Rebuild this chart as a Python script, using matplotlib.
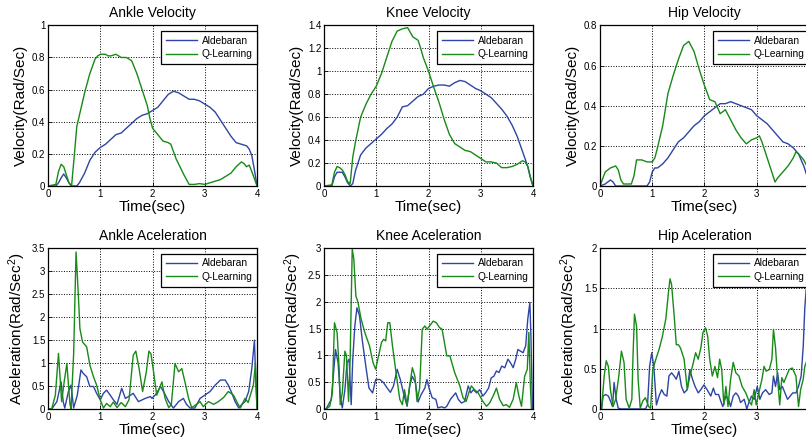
import matplotlib
matplotlib.use("Agg")
import matplotlib.pyplot as plt
import numpy as np
from matplotlib.ticker import FuncFormatter

plt.rcParams['font.family'] = ['Liberation Sans', 'DejaVu Sans']
plt.rcParams['mathtext.default'] = 'regular'

# (time, value) samples
ankle_vel_ald = [(0, 0), (0.15, 0), (0.2, 0.02), (0.25, 0.05), (0.3, 0.075), (0.35, 0.05), (0.4, 0.02),
                 (0.45, 0), (0.55, 0), (0.6, 0.02), (0.7, 0.08), (0.8, 0.16), (0.9, 0.21), (1.0, 0.24),
                 (1.1, 0.26), (1.2, 0.29), (1.3, 0.32), (1.4, 0.33), (1.5, 0.36), (1.6, 0.39), (1.7, 0.42),
                 (1.8, 0.44), (1.9, 0.45), (2.0, 0.47), (2.1, 0.49), (2.2, 0.53), (2.3, 0.57), (2.4, 0.59),
                 (2.5, 0.58), (2.6, 0.56), (2.7, 0.54), (2.8, 0.54), (2.9, 0.53), (3.0, 0.51), (3.1, 0.49),
                 (3.2, 0.46), (3.3, 0.41), (3.4, 0.36), (3.5, 0.31), (3.6, 0.27), (3.7, 0.26), (3.8, 0.25),
                 (3.85, 0.23), (3.9, 0.19), (3.95, 0.1), (4.0, 0)]
ankle_vel_ql = [(0, 0), (0.15, 0.01), (0.2, 0.09), (0.25, 0.135), (0.3, 0.12), (0.35, 0.07), (0.4, 0.02),
                (0.45, 0), (0.5, 0.18), (0.55, 0.37), (0.6, 0.44), (0.7, 0.58), (0.8, 0.7), (0.9, 0.79),
                (0.95, 0.81), (1.0, 0.82), (1.1, 0.82), (1.15, 0.81), (1.2, 0.81), (1.3, 0.82), (1.4, 0.8),
                (1.5, 0.8), (1.6, 0.78), (1.7, 0.7), (1.8, 0.6), (1.9, 0.5), (1.95, 0.42), (2.0, 0.36),
                (2.1, 0.32), (2.2, 0.28), (2.3, 0.27), (2.35, 0.26), (2.45, 0.17), (2.6, 0.07), (2.7, 0.01),
                (2.8, 0.01), (2.9, 0.015), (3.0, 0.01), (3.1, 0.02), (3.2, 0.03), (3.3, 0.04), (3.4, 0.06),
                (3.5, 0.08), (3.6, 0.12), (3.7, 0.15), (3.75, 0.14), (3.8, 0.12), (3.85, 0.13), (3.9, 0.09),
                (4.0, 0)]

knee_vel_ald = [(0, 0), (0.15, 0), (0.2, 0.08), (0.25, 0.12), (0.35, 0.12), (0.4, 0.08), (0.45, 0.03),
                (0.5, 0), (0.55, 0.02), (0.6, 0.13), (0.7, 0.27), (0.8, 0.33), (0.9, 0.37), (1.0, 0.41),
                (1.1, 0.45), (1.2, 0.5), (1.3, 0.54), (1.4, 0.6), (1.5, 0.69), (1.6, 0.7), (1.7, 0.74),
                (1.8, 0.78), (1.9, 0.8), (2.0, 0.85), (2.1, 0.87), (2.2, 0.88), (2.3, 0.88), (2.4, 0.87),
                (2.5, 0.9), (2.6, 0.92), (2.7, 0.91), (2.8, 0.88), (2.9, 0.85), (3.0, 0.83), (3.1, 0.8),
                (3.2, 0.77), (3.3, 0.72), (3.4, 0.67), (3.5, 0.61), (3.6, 0.53), (3.7, 0.43), (3.8, 0.3),
                (3.9, 0.17), (3.95, 0.07), (4.0, 0)]
knee_vel_ql = [(0, 0), (0.15, 0.01), (0.2, 0.12), (0.25, 0.17), (0.3, 0.16), (0.35, 0.14), (0.4, 0.1),
               (0.45, 0.04), (0.5, 0.02), (0.55, 0.25), (0.6, 0.38), (0.7, 0.6), (0.8, 0.71), (0.9, 0.8),
               (1.0, 0.87), (1.1, 0.98), (1.2, 1.12), (1.3, 1.26), (1.4, 1.35), (1.5, 1.37), (1.6, 1.38),
               (1.7, 1.3), (1.8, 1.27), (1.85, 1.2), (1.9, 1.12), (2.0, 1.0), (2.1, 0.86), (2.2, 0.73),
               (2.3, 0.58), (2.4, 0.45), (2.5, 0.37), (2.6, 0.34), (2.7, 0.31), (2.8, 0.3), (2.9, 0.27),
               (3.0, 0.24), (3.1, 0.21), (3.2, 0.21), (3.3, 0.2), (3.4, 0.16), (3.5, 0.16), (3.6, 0.17),
               (3.7, 0.19), (3.8, 0.22), (3.85, 0.21), (3.9, 0.17), (3.95, 0.08), (4.0, 0)]

hip_vel_ald = [(0, 0), (0.1, 0.01), (0.2, 0.03), (0.25, 0.02), (0.3, 0), (0.9, 0), (0.95, 0.02), (1.0, 0.07),
               (1.05, 0.09), (1.1, 0.09), (1.2, 0.11), (1.3, 0.14), (1.4, 0.18), (1.5, 0.22), (1.6, 0.24),
               (1.7, 0.27), (1.8, 0.3), (1.9, 0.32), (2.0, 0.35), (2.1, 0.37), (2.2, 0.39), (2.3, 0.41),
               (2.4, 0.41), (2.5, 0.42), (2.6, 0.41), (2.7, 0.4), (2.8, 0.39), (2.9, 0.38), (3.0, 0.35),
               (3.1, 0.33), (3.2, 0.31), (3.3, 0.28), (3.4, 0.25), (3.5, 0.22), (3.6, 0.21), (3.7, 0.19),
               (3.8, 0.16), (3.9, 0.1), (4.0, 0.02)]
hip_vel_ql = [(0, 0), (0.1, 0.07), (0.2, 0.09), (0.3, 0.1), (0.35, 0.08), (0.4, 0.03), (0.45, 0.01),
              (0.6, 0.01), (0.65, 0.05), (0.7, 0.13), (0.8, 0.13), (0.9, 0.12), (1.0, 0.12), (1.05, 0.14),
              (1.1, 0.19), (1.2, 0.3), (1.3, 0.46), (1.4, 0.55), (1.5, 0.63), (1.6, 0.7), (1.7, 0.72),
              (1.8, 0.67), (1.9, 0.58), (2.0, 0.5), (2.1, 0.43), (2.2, 0.42), (2.25, 0.39), (2.3, 0.36),
              (2.4, 0.38), (2.5, 0.33), (2.6, 0.28), (2.7, 0.24), (2.8, 0.21), (2.9, 0.23), (3.0, 0.24),
              (3.05, 0.25), (3.1, 0.22), (3.2, 0.14), (3.3, 0.06), (3.35, 0.02), (3.4, 0.04), (3.5, 0.07),
              (3.6, 0.1), (3.7, 0.14), (3.75, 0.17), (3.8, 0.16), (3.9, 0.13), (4.0, 0.08)]

ankle_acc_ald = [(0, 0), (0.07, 0), (0.17, 0.16), (0.25, 0.59), (0.29, 0.16), (0.32, 0.02), (0.39, 0.38),
                 (0.44, 0.52), (0.49, 0.02), (0.56, 0.3), (0.63, 0.85), (0.67, 0.78), (0.74, 0.7),
                 (0.8, 0.49), (0.87, 0.49), (0.93, 0.34), (1.0, 0.2), (1.06, 0.34), (1.12, 0.41),
                 (1.19, 0.3), (1.25, 0.2), (1.32, 0.1), (1.41, 0.45), (1.48, 0.23), (1.54, 0.27),
                 (1.63, 0.34), (1.73, 0.16), (1.86, 0.23), (1.96, 0.27), (1.99, 0.23), (2.08, 0.34),
                 (2.15, 0.49), (2.21, 0.38), (2.31, 0.16), (2.4, 0.02), (2.5, 0.16), (2.59, 0.23),
                 (2.65, 0.1), (2.72, 0.02), (2.81, 0.02), (2.91, 0.23), (3.0, 0.3), (3.1, 0.38),
                 (3.2, 0.52), (3.3, 0.63), (3.39, 0.63), (3.45, 0.52), (3.52, 0.34), (3.58, 0.16),
                 (3.65, 0.02), (3.71, 0.1), (3.77, 0.16), (3.84, 0.38), (3.9, 0.88), (3.95, 1.5),
                 (3.98, 0.5), (4.0, 0)]
ankle_acc_ql = [(0, 0), (0.07, 0), (0.14, 0.3), (0.2, 1.21), (0.26, 0.16), (0.31, 0.6), (0.36, 0.99),
                (0.42, 0.1), (0.44, 0), (0.49, 1.2), (0.536, 3.42), (0.58, 2.48), (0.61, 1.75), (0.66, 1.46),
                (0.74, 1.35), (0.8, 0.96), (0.87, 0.7), (0.93, 0.52), (1.0, 0.2), (1.06, 0.02), (1.12, 0.12),
                (1.19, 0.05), (1.25, 0.15), (1.32, 0.03), (1.4, 0.14), (1.48, 0.05), (1.55, 0.2),
                (1.63, 1.17), (1.68, 1.26), (1.74, 0.9), (1.81, 0.38), (1.88, 0.8), (1.93, 1.26),
                (1.97, 1.2), (2.02, 0.81), (2.08, 0.3), (2.18, 0.59), (2.24, 0.23), (2.31, 0.03),
                (2.36, 0.1), (2.43, 0.99), (2.5, 0.81), (2.56, 0.88), (2.62, 0.59), (2.69, 0.23),
                (2.75, 0.03), (2.84, 0.1), (2.91, 0.16), (2.97, 0.05), (3.07, 0.16), (3.17, 0.1),
                (3.26, 0.16), (3.36, 0.25), (3.45, 0.38), (3.55, 0.3), (3.62, 0.14), (3.68, 0.02),
                (3.77, 0.23), (3.83, 0.14), (3.93, 0.52), (3.97, 0.99), (4.0, 0)]

knee_acc_ald = [(0, 0), (0.04, 0), (0.14, 0.18), (0.22, 1.11), (0.27, 0.86), (0.31, 0.24), (0.35, 0.02),
                (0.4, 0.36), (0.44, 0.86), (0.48, 0.93), (0.52, 0.08), (0.55, 0.93), (0.59, 1.55),
                (0.63, 1.89), (0.68, 1.74), (0.73, 1.3), (0.8, 0.8), (0.86, 0.39), (0.93, 0.3), (0.99, 0.55),
                (1.07, 0.55), (1.14, 0.49), (1.21, 0.39), (1.27, 0.31), (1.33, 0.43), (1.4, 0.74),
                (1.46, 0.55), (1.52, 0.3), (1.59, 0.05), (1.64, 0.43), (1.69, 0.61), (1.75, 0.49),
                (1.8, 0.13), (1.86, 0.27), (1.93, 0.39), (1.97, 0.55), (2.01, 0.39), (2.07, 0.21),
                (2.14, 0.18), (2.18, 0.02), (2.25, 0.04), (2.31, 0.02), (2.35, 0.05), (2.42, 0.18),
                (2.47, 0.24), (2.52, 0.3), (2.57, 0.18), (2.63, 0.11), (2.69, 0.14), (2.76, 0.43),
                (2.81, 0.3), (2.86, 0.36), (2.92, 0.3), (2.98, 0.36), (3.04, 0.24), (3.09, 0.3),
                (3.15, 0.39), (3.2, 0.58), (3.25, 0.61), (3.3, 0.71), (3.35, 0.68), (3.4, 0.8),
                (3.46, 0.77), (3.52, 0.93), (3.57, 0.86), (3.62, 0.77), (3.67, 0.93), (3.71, 1.11),
                (3.76, 1.08), (3.81, 1.05), (3.86, 1.18), (3.9, 1.68), (3.94, 1.99), (3.96, 1.36),
                (3.99, 0)]
knee_acc_ql = [(0, 0), (0.04, 0), (0.11, 0.05), (0.16, 0.3), (0.2, 1.61), (0.25, 1.43), (0.29, 0.74),
               (0.31, 0.08), (0.35, 0.3), (0.4, 1.08), (0.43, 0.99), (0.47, 0.14), (0.5, 0.93), (0.54, 2.99),
               (0.57, 2.8), (0.61, 2.11), (0.65, 1.99), (0.71, 1.68), (0.78, 1.43), (0.87, 1.18),
               (0.94, 0.86), (0.99, 0.74), (1.03, 0.93), (1.1, 1.24), (1.14, 1.3), (1.18, 1.27),
               (1.22, 1.61), (1.26, 1.61), (1.31, 1.18), (1.37, 0.74), (1.45, 0.18), (1.5, 0.08),
               (1.54, 0.36), (1.59, 0.08), (1.64, 0.43), (1.69, 0.77), (1.74, 0.61), (1.78, 0.14),
               (1.83, 0.39), (1.88, 1.49), (1.93, 1.55), (1.97, 1.49), (2.02, 1.55), (2.09, 1.64),
               (2.15, 1.61), (2.21, 1.52), (2.26, 1.49), (2.31, 1.21), (2.35, 0.99), (2.41, 0.99),
               (2.5, 0.68), (2.6, 0.43), (2.66, 0.21), (2.72, 0.14), (2.78, 0.33), (2.82, 0.43),
               (2.88, 0.36), (2.95, 0.3), (3.04, 0.14), (3.11, 0.05), (3.17, 0.11), (3.25, 0.27),
               (3.3, 0.39), (3.36, 0.18), (3.43, 0.06), (3.49, 0.08), (3.55, 0.03), (3.62, 0.18),
               (3.68, 0.49), (3.73, 0.24), (3.78, 0.05), (3.84, 0.61), (3.89, 0.74), (3.92, 1.43),
               (3.95, 0.43), (3.97, 0)]

hip_acc_ald = [(0, 0), (0.03, 0), (0.06, 0.16), (0.11, 0.18), (0.16, 0.16), (0.2, 0.1), (0.24, 0.03),
               (0.27, 0.33), (0.31, 0.12), (0.35, 0.01), (0.4, 0), (0.87, 0), (0.91, 0.05), (0.95, 0.53),
               (0.99, 0.7), (1.03, 0.53), (1.08, 0.05), (1.13, 0.16), (1.18, 0.24), (1.23, 0.18),
               (1.28, 0.16), (1.32, 0.41), (1.37, 0.45), (1.42, 0.41), (1.46, 0.37), (1.51, 0.47),
               (1.56, 0.28), (1.61, 0.2), (1.67, 0.24), (1.72, 0.49), (1.77, 0.37), (1.82, 0.28),
               (1.88, 0.2), (1.93, 0.24), (1.99, 0.3), (2.05, 0.24), (2.12, 0.16), (2.17, 0.26),
               (2.21, 0.18), (2.27, 0.18), (2.31, 0.1), (2.35, 0.03), (2.41, 0.16), (2.46, 0.12),
               (2.5, 0.03), (2.55, 0.16), (2.6, 0.2), (2.65, 0.16), (2.69, 0.08), (2.76, 0.12),
               (2.81, 0), (2.85, 0.08), (2.9, 0.16), (2.95, 0.12), (3.01, 0.28), (3.06, 0.12),
               (3.11, 0.2), (3.17, 0.24), (3.24, 0.18), (3.29, 0.2), (3.32, 0.41), (3.36, 0.28),
               (3.4, 0.45), (3.44, 0.24), (3.49, 0.28), (3.54, 0.2), (3.59, 0.12), (3.64, 0.16),
               (3.69, 0.2), (3.75, 0.2), (3.8, 0.28), (3.85, 0.41), (3.89, 0.78), (3.92, 1.26),
               (3.96, 1.6)]
hip_acc_ql = [(0, 0), (0.03, 0), (0.08, 0.41), (0.12, 0.6), (0.16, 0.53), (0.2, 0.24), (0.25, 0.03),
              (0.3, 0.12), (0.36, 0.41), (0.41, 0.72), (0.46, 0.58), (0.5, 0.12), (0.56, 0.01),
              (0.61, 0.12), (0.63, 0.62), (0.66, 1.18), (0.7, 1.03), (0.73, 0.37), (0.77, 0.01),
              (0.82, 0.1), (0.87, 0.14), (0.93, 0.03), (0.97, 0.01), (1.01, 0.49), (1.07, 0.62),
              (1.13, 0.74), (1.19, 0.89), (1.26, 1.12), (1.31, 1.45), (1.34, 1.62), (1.37, 1.55),
              (1.42, 1.16), (1.46, 0.8), (1.5, 0.8), (1.54, 0.76), (1.61, 0.62), (1.67, 0.24),
              (1.72, 0.41), (1.77, 0.53), (1.83, 0.7), (1.88, 0.62), (1.93, 0.76), (1.97, 0.95),
              (2.02, 1.01), (2.06, 0.91), (2.1, 0.62), (2.15, 0.41), (2.2, 0.53), (2.25, 0.39),
              (2.29, 0.62), (2.33, 0.49), (2.37, 0.05), (2.41, 0.28), (2.45, 0.03), (2.5, 0.37),
              (2.55, 0.58), (2.6, 0.45), (2.66, 0.41), (2.72, 0.28), (2.79, 0.2), (2.85, 0.1),
              (2.9, 0.05), (2.95, 0.24), (2.99, 0.05), (3.04, 0.2), (3.1, 0.37), (3.14, 0.53),
              (3.18, 0.47), (3.24, 0.49), (3.29, 0.62), (3.32, 0.99), (3.36, 0.76), (3.4, 0.37),
              (3.44, 0.05), (3.48, 0.39), (3.52, 0.33), (3.57, 0.41), (3.62, 0.49), (3.68, 0.51),
              (3.75, 0.41), (3.8, 0.03), (3.84, 0.24), (3.89, 0.37), (3.92, 0.53), (3.96, 0.6)]

titles = ["Ankle Velocity", "Knee Velocity", "Hip Velocity",
          "Ankle Aceleration", "Knee Aceleration", "Hip Aceleration"]
series = [(ankle_vel_ald, ankle_vel_ql), (knee_vel_ald, knee_vel_ql), (hip_vel_ald, hip_vel_ql),
          (ankle_acc_ald, ankle_acc_ql), (knee_acc_ald, knee_acc_ql), (hip_acc_ald, hip_acc_ql)]
ymax = [1.0, 1.4, 0.8, 3.5, 3.0, 2.0]
ystep = [0.2, 0.2, 0.2, 0.5, 0.5, 0.5]
labels = ["Aldebaran", "Q-Learning"]

blue = '#2e44a6'
green = '#178a17'

fig = plt.figure(figsize=(8.06, 4.45), dpi=100)
lefts = [0.0596, 0.402, 0.7444]
bottoms = [0.582, 0.081]
w, h = 0.2593, 0.361

fmt = FuncFormatter(lambda v, p: '%g' % round(v, 3))

for i in range(6):
    ax = fig.add_axes([lefts[i % 3], bottoms[i // 3], w, h])
    ald = np.array(series[i][0]).T
    ql = np.array(series[i][1]).T
    ax.plot(ald[0], ald[1], color=blue, lw=1.0, label=labels[0])
    ax.plot(ql[0], ql[1], color=green, lw=1.0, label=labels[1])
    ax.set_xlim(0, 4)
    ax.set_ylim(0, ymax[i])
    ax.set_xticks(np.arange(0, 5, 1))
    if i % 3 == 2:
        # the hip panels run past the right edge of the page, "4" is not shown
        ax.set_xticklabels(['0', '1', '2', '3', ''])
    ax.set_yticks(np.arange(0, ymax[i] + 1e-6, ystep[i]))
    ax.yaxis.set_major_formatter(fmt)
    ax.tick_params(direction='in', length=3, labelsize=7, pad=2, width=0.6)
    ax.grid(True, color='black', linestyle=':', linewidth=0.7)
    for s in ax.spines.values():
        s.set_linewidth(0.9)
    ax.set_title(titles[i], fontsize=10, pad=6)
    ax.set_xlabel("Time(sec)", fontsize=11, labelpad=1)
    if i < 3:
        ax.set_ylabel("Velocity(Rad/Sec)", fontsize=11, labelpad=3)
    else:
        ax.set_ylabel("Aceleration(Rad/Sec$^2$)", fontsize=11, labelpad=3)
    leg = ax.legend(loc='upper right', bbox_to_anchor=(1.0, 0.965), fontsize=7.3,
                    fancybox=False, framealpha=1, edgecolor='black', borderaxespad=0,
                    handlelength=3.1, handletextpad=0.45, labelspacing=0.35, borderpad=0.45)
    leg.get_frame().set_linewidth(0.9)

plt.savefig("out.png", dpi=100)
